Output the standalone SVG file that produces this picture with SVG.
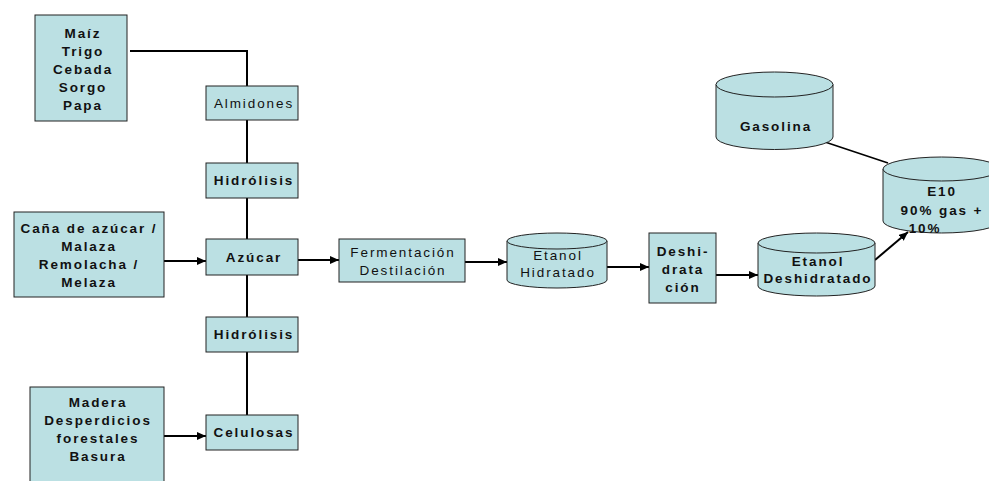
<svg xmlns="http://www.w3.org/2000/svg" width="989" height="481" viewBox="0 0 989 481">
<defs>
<style>
.box{fill:#BBE0E3;stroke:#222;stroke-width:1}
.cyl{fill:#BBE0E3;stroke:#222;stroke-width:1}
.t{font-family:"Liberation Sans",Arial,sans-serif;font-size:13.5px;letter-spacing:1.9px;fill:#111;text-anchor:middle}
.b{font-weight:bold}
.ln{fill:none;stroke:#000;stroke-width:2}
.arr{fill:none;stroke:#000;stroke-width:2;marker-end:url(#ah)}
</style>
<marker id="ah" markerUnits="userSpaceOnUse" markerWidth="10" markerHeight="9" refX="9" refY="4" orient="auto">
<path d="M0,0 L9,4 L0,8 Z" fill="#000"/>
</marker>
</defs>
<rect width="989" height="481" fill="#fff"/>
<g id="connectors">
<polyline class="ln" points="130,51 247,51 247,86"/>
<line class="ln" x1="247" y1="120" x2="247" y2="163"/>
<line class="ln" x1="247" y1="198" x2="247" y2="239"/>
<line class="ln" x1="247" y1="275" x2="247" y2="317"/>
<line class="ln" x1="247" y1="352" x2="247" y2="415"/>
<line class="arr" x1="164" y1="261" x2="206" y2="261"/>
<line class="arr" x1="164" y1="436" x2="206" y2="436"/>
<line class="arr" x1="298" y1="260" x2="339" y2="260"/>
<line class="arr" x1="465" y1="262" x2="507" y2="262"/>
<line class="arr" x1="607" y1="267" x2="649" y2="267"/>
<line class="arr" x1="716" y1="275" x2="758" y2="275"/>
<line class="arr" x1="875" y1="260" x2="908" y2="232"/>
<line x1="825" y1="142" x2="888" y2="163" stroke="#000" stroke-width="1.5"/>
</g>
<g id="maiz">
<rect class="box" x="35" y="15" width="92" height="106"/>
<text class="t b"><tspan x="83" y="38">Maíz</tspan><tspan x="83" y="56">Trigo</tspan><tspan x="83" y="74">Cebada</tspan><tspan x="83" y="92">Sorgo</tspan><tspan x="83" y="110">Papa</tspan></text>
</g>
<g id="almidones">
<rect class="box" x="206" y="86" width="92" height="34"/>
<text class="t" x="254" y="108">Almidones</text>
</g>
<g id="hidrolisis1">
<rect class="box" x="206" y="163" width="92" height="35"/>
<text class="t b" x="254" y="185">Hidrólisis</text>
</g>
<g id="cana">
<rect class="box" x="14" y="212" width="150" height="85"/>
<text class="t b"><tspan x="89" y="233">Caña de azúcar /</tspan><tspan x="89" y="251">Malaza</tspan><tspan x="89" y="269">Remolacha /</tspan><tspan x="89" y="287">Melaza</tspan></text>
</g>
<g id="azucar">
<rect class="box" x="206" y="239" width="92" height="36"/>
<text class="t b" x="254" y="262">Azúcar</text>
</g>
<g id="hidrolisis2">
<rect class="box" x="206" y="317" width="92" height="35"/>
<text class="t b" x="254" y="339">Hidrólisis</text>
</g>
<g id="madera">
<rect class="box" x="30" y="387" width="134" height="100"/>
<text class="t b"><tspan x="98" y="407">Madera</tspan><tspan x="98" y="425">Desperdicios</tspan><tspan x="98" y="443">forestales</tspan><tspan x="98" y="461">Basura</tspan></text>
</g>
<g id="celulosas">
<rect class="box" x="206" y="415" width="92" height="35"/>
<text class="t b" x="254" y="437">Celulosas</text>
</g>
<g id="fermentacion">
<rect class="box" x="339" y="239" width="126" height="43"/>
<text class="t"><tspan x="403" y="257">Fermentación</tspan><tspan x="403" y="275">Destilación</tspan></text>
</g>
<g id="etanol-hidratado">
<path class="cyl" d="M507,241 L507,280 A50,8 0 0 0 607,280 L607,241 A50,8 0 0 0 507,241 Z"/>
<path class="cyl" d="M507,241 A50,8 0 0 0 607,241"/>
<text class="t"><tspan x="558" y="260">Etanol</tspan><tspan x="558" y="277">Hidratado</tspan></text>
</g>
<g id="deshidratacion">
<rect class="box" x="649" y="233" width="67" height="70"/>
<text class="t b"><tspan x="683" y="256">Deshi-</tspan><tspan x="683" y="274">drata</tspan><tspan x="683" y="292">ción</tspan></text>
</g>
<g id="etanol-deshidratado">
<path class="cyl" d="M758,243 L758,286 A58.5,10 0 0 0 875,286 L875,243 A58.5,10 0 0 0 758,243 Z"/>
<path class="cyl" d="M758,243 A58.5,10 0 0 0 875,243"/>
<text class="t b"><tspan x="818" y="266">Etanol</tspan><tspan x="818" y="283">Deshidratado</tspan></text>
</g>
<g id="gasolina">
<path class="cyl" d="M716,84.5 L716,137 A58.5,12.5 0 0 0 833,137 L833,84.5 A58.5,12.5 0 0 0 716,84.5 Z"/>
<path class="cyl" d="M716,84.5 A58.5,12.5 0 0 0 833,84.5"/>
<text class="t b" x="776" y="131">Gasolina</text>
</g>
<g id="e10">
<path class="cyl" d="M883,169 L883,221 A58.5,12 0 0 0 1000,221 L1000,169 A58.5,12 0 0 0 883,169 Z"/>
<path class="cyl" d="M883,169 A58.5,12 0 0 0 1000,169"/>
<text class="t b"><tspan x="942" y="196">E10</tspan><tspan x="942" y="215">90% gas +</tspan><tspan x="925" y="233">10%</tspan></text>
</g>
</svg>
